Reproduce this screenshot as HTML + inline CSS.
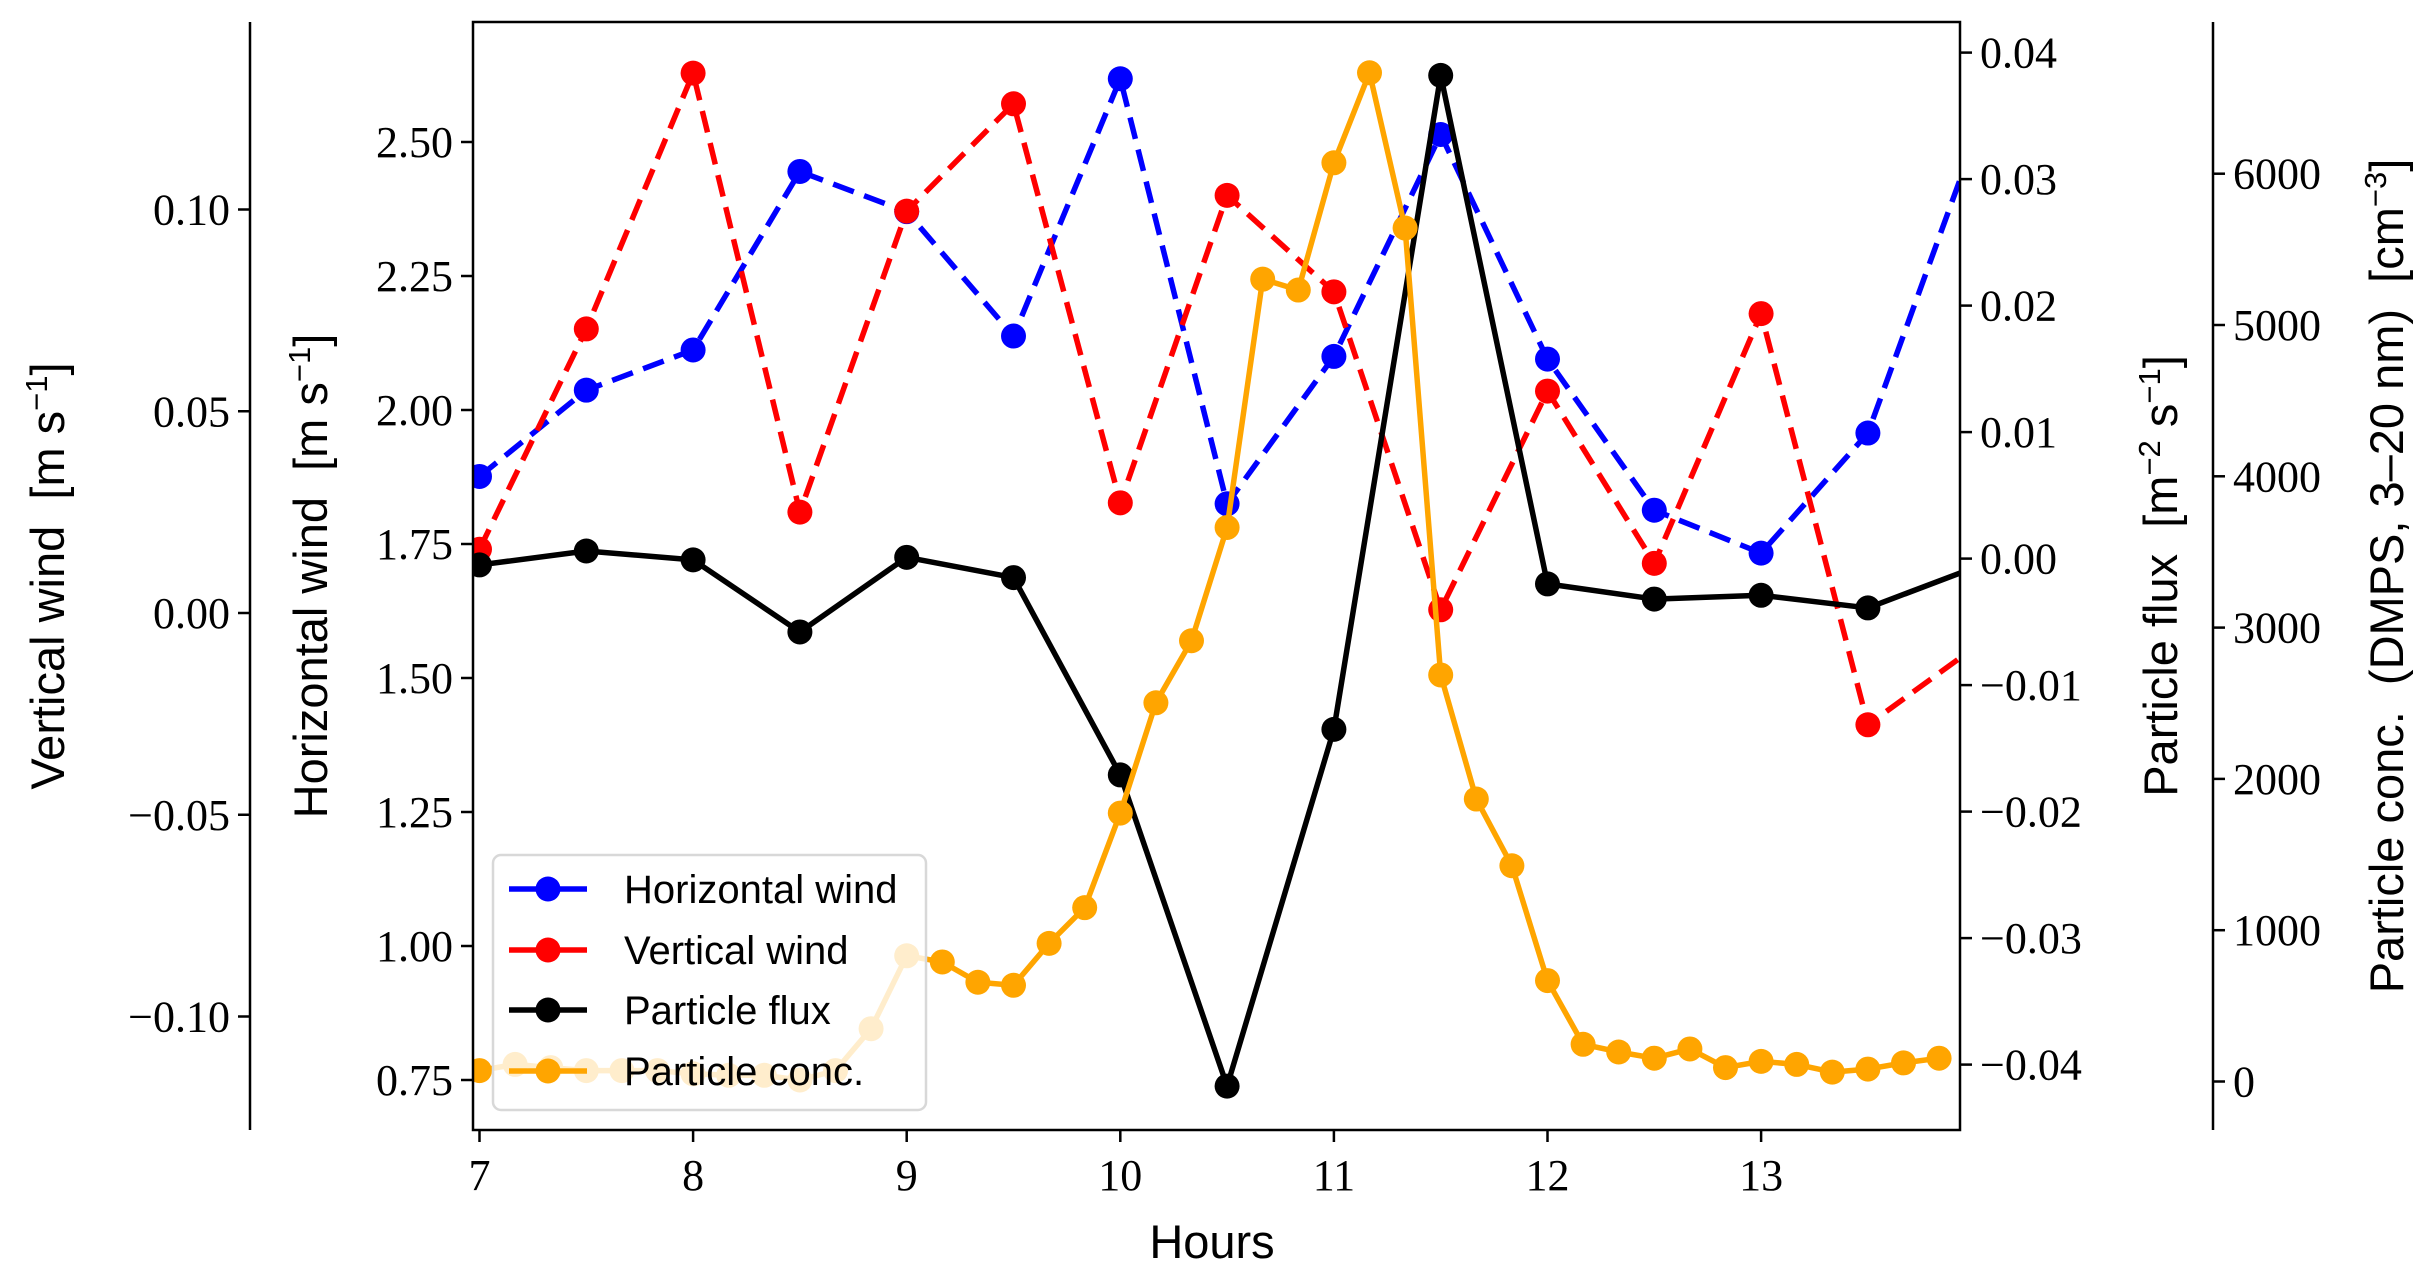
<!DOCTYPE html>
<html><head><meta charset="utf-8"><style>
html,body{margin:0;padding:0;background:#fff;}
svg{display:block;}
.tk{font-family:"Liberation Serif",serif;font-size:44px;fill:#000;}
.lab{font-family:"Liberation Sans",sans-serif;font-size:47px;fill:#000;white-space:pre;}
.leg{font-family:"Liberation Sans",sans-serif;font-size:40px;fill:#000;}
</style></head><body>
<svg id="chart" width="2433" height="1281" xmlns="http://www.w3.org/2000/svg">
<defs><clipPath id="clip"><rect x="473" y="22" width="1487" height="1108"/></clipPath></defs>
<g id="plot" clip-path="url(#clip)"></g>
<g id="axes"></g>
</svg>
<script>
const hwHours = [7,7.5,8,8.5,9,9.5,10,10.5,11,11.5,12,12.5,13,13.5,14];
const hwValues = [1.876,2.037,2.112,2.445,2.37,2.138,2.618,1.825,2.10,2.514,2.095,1.813,1.733,1.957,2.505];
const vwValues = [0.0158,0.0704,0.1338,0.025,0.0996,0.1262,0.0273,0.1035,0.0796,0.0008,0.055,0.0123,0.0742,-0.0277,-0.0085];
const fluxValues = [-0.0005,0.0006,-0.0001,-0.0058,0.0001,-0.0015,-0.0171,-0.0417,-0.0135,0.0382,-0.002,-0.0032,-0.0029,-0.0039,-0.0007];
const concHours = [7,7.1667,7.3333,7.5,7.6667,7.8333,8,8.1667,8.3333,8.5,8.6667,8.8333,9,9.1667,9.3333,9.5,9.6667,9.8333,10,10.1667,10.3333,10.5,10.6667,10.8333,11,11.1667,11.3333,11.5,11.6667,11.8333,12,12.1667,12.3333,12.5,12.6667,12.8333,13,13.1667,13.3333,13.5,13.6667,13.8333];
const concValues = [72,113,92,72,72,72,51,41,41,10,72,349,831,790,656,636,913,1149,1774,2503,2913,3662,5303,5231,6072,6667,5641,2687,1867,1426,667,246,195,154,215,92,133,113,62,82,123,154];
const xTicks = [7,8,9,10,11,12,13];
const hwTicks = [0.75,1.00,1.25,1.50,1.75,2.00,2.25,2.50];
const vwTicks = [-0.10,-0.05,0.00,0.05,0.10];
const fluxTicks = [-0.04,-0.03,-0.02,-0.01,0.00,0.01,0.02,0.03,0.04];
const concTicks = [0,1000,2000,3000,4000,5000,6000];

const NS="http://www.w3.org/2000/svg";
const L=473,R=1960,T=22,B=1130;
const xS=h=>479.5+(h-7)*213.6;
const yHW=v=>142+(2.5-v)*536;
const yVW=v=>613-v*4035;
const yFL=v=>558.6-v*12650;
const yCO=v=>1081.5-v*0.1513;
function mk(tag,attrs,parent){const e=document.createElementNS(NS,tag);for(const k in attrs)e.setAttribute(k,attrs[k]);parent.appendChild(e);return e;}
const plot=document.getElementById('plot'), axes=document.getElementById('axes');
const fmt=(v,d)=>(v<0?'\u2212':'')+Math.abs(v).toFixed(d);

function series(xs,vals,yf,color,dash,name){
  const g=mk('g',{},plot);
  
  
  const pts=xs.map((x,i)=>xS(x)+','+yf(vals[i])).join(' ');
  const pl=mk('polyline',{points:pts,fill:'none',stroke:color,'stroke-width':5.5,'stroke-dasharray':dash||'none','stroke-linejoin':'round'},g);
  
  
  xs.forEach((x,i)=>{const c=mk('circle',{cx:xS(x),cy:yf(vals[i]),r:12.5,fill:color},g);
    
    });
}
series(hwHours,hwValues,yHW,'#0000ff','22 11','horizontal-wind-series');
series(hwHours,vwValues,yVW,'#ff0000','22 11','vertical-wind-series');
series(hwHours,fluxValues,yFL,'#000000',null,'particle-flux-series');
series(concHours,concValues,yCO,'#ffa500',null,'particle-conc-series');

const fr=mk('rect',{x:L,y:T,width:R-L,height:B-T,fill:'none',stroke:'#000','stroke-width':2.5},axes);


xTicks.forEach(t=>{const x=xS(t);mk('line',{x1:x,y1:B,x2:x,y2:B+12,stroke:'#000','stroke-width':2.5},axes);
  const tx=mk('text',{x:x,y:B+60,'text-anchor':'middle',class:'tk'},axes);tx.textContent=t;
  
  });
hwTicks.forEach(t=>{const y=yHW(t);mk('line',{x1:L-12,y1:y,x2:L,y2:y,stroke:'#000','stroke-width':2.5},axes);
  const tx=mk('text',{x:L-20,y:y+15,'text-anchor':'end',class:'tk'},axes);tx.textContent=t.toFixed(2);
  
  });
const VX=250;
mk('line',{x1:VX,y1:T,x2:VX,y2:B,stroke:'#000','stroke-width':2.5},axes);
vwTicks.forEach(t=>{const y=yVW(t);mk('line',{x1:VX-12,y1:y,x2:VX,y2:y,stroke:'#000','stroke-width':2.5},axes);
  const tx=mk('text',{x:VX-20,y:y+15,'text-anchor':'end',class:'tk'},axes);tx.textContent=fmt(t,2);
  
  });
fluxTicks.forEach(t=>{const y=yFL(t);mk('line',{x1:R,y1:y,x2:R+12,y2:y,stroke:'#000','stroke-width':2.5},axes);
  const tx=mk('text',{x:R+20,y:y+15,'text-anchor':'start',class:'tk'},axes);tx.textContent=fmt(t,2);
  
  });
const CX=2213;
mk('line',{x1:CX,y1:T,x2:CX,y2:B,stroke:'#000','stroke-width':2.5},axes);
concTicks.forEach(t=>{const y=yCO(t);mk('line',{x1:CX,y1:y,x2:CX+12,y2:y,stroke:'#000','stroke-width':2.5},axes);
  const tx=mk('text',{x:CX+20,y:y+15,'text-anchor':'start',class:'tk'},axes);tx.textContent=t;
  
  });
</script>
<svg style="position:absolute;left:0;top:0" width="2433" height="1281" xmlns="http://www.w3.org/2000/svg">
<text class="lab" x="1212" y="1258" text-anchor="middle">Hours</text>
<text class="lab" transform="translate(64,576) rotate(-90)" text-anchor="middle">Vertical wind  [m s<tspan dy="-17" font-size="31">−1</tspan><tspan dy="17">]</tspan></text>
<text class="lab" transform="translate(327,576) rotate(-90)" text-anchor="middle">Horizontal wind  [m s<tspan dy="-17" font-size="31">−1</tspan><tspan dy="17">]</tspan></text>
<text class="lab" transform="translate(2177,576) rotate(-90)" text-anchor="middle">Particle flux  [m<tspan dy="-17" font-size="31">−2</tspan><tspan dy="17"> s</tspan><tspan dy="-17" font-size="31">−1</tspan><tspan dy="17">]</tspan></text>
<text class="lab" transform="translate(2403,576) rotate(-90)" text-anchor="middle">Particle conc.  (DMPS, 3–20 nm)  [cm<tspan dy="-17" font-size="31">−3</tspan><tspan dy="17">]</tspan></text>
<g>
<rect x="493" y="855" width="433" height="255" rx="8" fill="#fff" fill-opacity="0.8" stroke="#d8d8d8" stroke-width="2.5"/>
<g><line x1="509" y1="889" x2="587" y2="889" stroke="#0000ff" stroke-width="5.5"/><circle cx="548" cy="889" r="12.5" fill="#0000ff"/><text class="leg" x="624" y="903">Horizontal wind</text></g>
<g><line x1="509" y1="950" x2="587" y2="950" stroke="#ff0000" stroke-width="5.5"/><circle cx="548" cy="950" r="12.5" fill="#ff0000"/><text class="leg" x="624" y="964">Vertical wind</text></g>
<g><line x1="509" y1="1010" x2="587" y2="1010" stroke="#000" stroke-width="5.5"/><circle cx="548" cy="1010" r="12.5" fill="#000"/><text class="leg" x="624" y="1024">Particle flux</text></g>
<g><line x1="509" y1="1071" x2="587" y2="1071" stroke="#ffa500" stroke-width="5.5"/><circle cx="548" cy="1071" r="12.5" fill="#ffa500"/><text class="leg" x="624" y="1085">Particle conc.</text></g>
</g>
</svg>
</body></html>
